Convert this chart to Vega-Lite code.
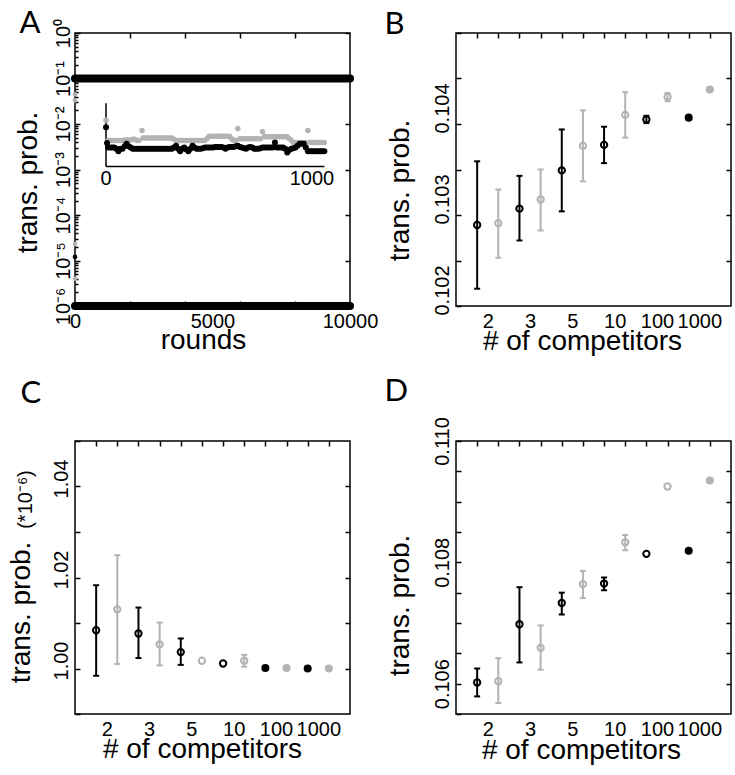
{
  "$schema": "https://vega.github.io/schema/vega-lite/v6.json",
  "autosize": {"type": "pad"},
  "padding": {"left": 6, "top": 6, "right": 5, "bottom": 11},
  "background": "white",
  "config": {
    "font": "Liberation Sans",
    "view": {"stroke": "#000", "strokeWidth": 1.5},
    "axis": {
      "labelFont": "Liberation Sans", "labelFontSize": 20, "labelColor": "#000",
      "titleFont": "Liberation Sans", "titleFontSize": 28, "titleFontWeight": "normal", "titleColor": "#000",
      "tickColor": "#000", "tickWidth": 1.5, "domain": false, "grid": false,
      "labelOverlap": false, "labelFlush": false, "labelBound": false,
      "minExtent": 0, "maxExtent": 400
    }
  },
  "datasets": {
    "comp": [
      {"panel":"B","n":"2","s":"s1","slot":1,"mean":0.10289,"lo":0.10219,"hi":0.10359},
      {"panel":"B","n":"2","s":"s2","slot":2,"mean":0.10291,"lo":0.10253,"hi":0.10328},
      {"panel":"B","n":"3","s":"s1","slot":3,"mean":0.10307,"lo":0.10272,"hi":0.10343},
      {"panel":"B","n":"3","s":"s2","slot":4,"mean":0.10317,"lo":0.10283,"hi":0.10350},
      {"panel":"B","n":"5","s":"s1","slot":5,"mean":0.10349,"lo":0.10304,"hi":0.10394},
      {"panel":"B","n":"5","s":"s2","slot":6,"mean":0.10376,"lo":0.10337,"hi":0.10415},
      {"panel":"B","n":"10","s":"s1","slot":7,"mean":0.10377,"lo":0.10357,"hi":0.10397},
      {"panel":"B","n":"10","s":"s2","slot":8,"mean":0.10410,"lo":0.10385,"hi":0.10435},
      {"panel":"B","n":"100","s":"s1","slot":9,"mean":0.10405,"lo":0.10401,"hi":0.10409},
      {"panel":"B","n":"100","s":"s2","slot":10,"mean":0.10430,"lo":0.10425,"hi":0.10434},
      {"panel":"B","n":"1000","s":"s1","slot":11,"mean":0.10407,"lo":null,"hi":null},
      {"panel":"B","n":"1000","s":"s2","slot":12,"mean":0.10438,"lo":null,"hi":null},
      {"panel":"C","n":"2","s":"s1","slot":1,"mean":1.0084,"lo":0.9984,"hi":1.0183},
      {"panel":"C","n":"2","s":"s2","slot":2,"mean":1.0130,"lo":1.0010,"hi":1.0249},
      {"panel":"C","n":"3","s":"s1","slot":3,"mean":1.0077,"lo":1.0023,"hi":1.0134},
      {"panel":"C","n":"3","s":"s2","slot":4,"mean":1.0053,"lo":1.0007,"hi":1.0101},
      {"panel":"C","n":"5","s":"s1","slot":5,"mean":1.0036,"lo":1.0008,"hi":1.0066},
      {"panel":"C","n":"5","s":"s2","slot":6,"mean":1.0017,"lo":null,"hi":null},
      {"panel":"C","n":"10","s":"s1","slot":7,"mean":1.0011,"lo":null,"hi":null},
      {"panel":"C","n":"10","s":"s2","slot":8,"mean":1.0017,"lo":1.0004,"hi":1.0030},
      {"panel":"C","n":"100","s":"s1","slot":9,"mean":1.0001,"lo":null,"hi":null},
      {"panel":"C","n":"100","s":"s2","slot":10,"mean":1.0001,"lo":null,"hi":null},
      {"panel":"C","n":"1000","s":"s1","slot":11,"mean":1.0000,"lo":null,"hi":null},
      {"panel":"C","n":"1000","s":"s2","slot":12,"mean":1.0000,"lo":null,"hi":null},
      {"panel":"D","n":"2","s":"s1","slot":1,"mean":0.10602,"lo":0.10579,"hi":0.10625},
      {"panel":"D","n":"2","s":"s2","slot":2,"mean":0.10604,"lo":0.10568,"hi":0.10642},
      {"panel":"D","n":"3","s":"s1","slot":3,"mean":0.10698,"lo":0.10635,"hi":0.10759},
      {"panel":"D","n":"3","s":"s2","slot":4,"mean":0.10659,"lo":0.10623,"hi":0.10696},
      {"panel":"D","n":"5","s":"s1","slot":5,"mean":0.10733,"lo":0.10714,"hi":0.10750},
      {"panel":"D","n":"5","s":"s2","slot":6,"mean":0.10764,"lo":0.10741,"hi":0.10786},
      {"panel":"D","n":"10","s":"s1","slot":7,"mean":0.10765,"lo":0.10754,"hi":0.10775},
      {"panel":"D","n":"10","s":"s2","slot":8,"mean":0.10833,"lo":0.10820,"hi":0.10845},
      {"panel":"D","n":"100","s":"s1","slot":9,"mean":0.10814,"lo":null,"hi":null},
      {"panel":"D","n":"100","s":"s2","slot":10,"mean":0.10925,"lo":null,"hi":null},
      {"panel":"D","n":"1000","s":"s1","slot":11,"mean":0.10819,"lo":null,"hi":null},
      {"panel":"D","n":"1000","s":"s2","slot":12,"mean":0.10935,"lo":null,"hi":null}
    ],
    "bands": [
      {"round":0,"prob":0.1,"b":"upper"},{"round":1000,"prob":0.1,"b":"upper"},{"round":2000,"prob":0.1,"b":"upper"},{"round":3000,"prob":0.1,"b":"upper"},{"round":4000,"prob":0.1,"b":"upper"},{"round":5000,"prob":0.1,"b":"upper"},{"round":6000,"prob":0.1,"b":"upper"},{"round":7000,"prob":0.1,"b":"upper"},{"round":8000,"prob":0.1,"b":"upper"},{"round":9000,"prob":0.1,"b":"upper"},{"round":10000,"prob":0.1,"b":"upper"},
      {"round":0,"prob":1e-6,"b":"lower"},{"round":1000,"prob":1e-6,"b":"lower"},{"round":2000,"prob":1e-6,"b":"lower"},{"round":3000,"prob":1e-6,"b":"lower"},{"round":4000,"prob":1e-6,"b":"lower"},{"round":5000,"prob":1e-6,"b":"lower"},{"round":6000,"prob":1e-6,"b":"lower"},{"round":7000,"prob":1e-6,"b":"lower"},{"round":8000,"prob":1e-6,"b":"lower"},{"round":9000,"prob":1e-6,"b":"lower"},{"round":10000,"prob":1e-6,"b":"lower"}
    ],
    "edge": [
      {"round":0,"prob":1.2e-5,"s":"s1"},
      {"round":0,"prob":2.3e-5,"s":"s2"},
      {"round":0,"prob":4e-6,"s":"s2"},
      {"round":0,"prob":0.045,"s":"s2"},
      {"round":0,"prob":0.033,"s":"s2"}
    ],
    "inset": [
      {"r":0,"v":0.73,"s":"s2"},{"r":10,"v":0.41,"s":"s2"},{"r":20,"v":0.41,"s":"s2"},{"r":30,"v":0.41,"s":"s2"},{"r":40,"v":0.41,"s":"s2"},{"r":50,"v":0.41,"s":"s2"},{"r":60,"v":0.41,"s":"s2"},{"r":70,"v":0.41,"s":"s2"},{"r":80,"v":0.41,"s":"s2"},{"r":90,"v":0.42,"s":"s2"},{"r":100,"v":0.42,"s":"s2"},{"r":110,"v":0.42,"s":"s2"},{"r":120,"v":0.42,"s":"s2"},{"r":130,"v":0.43,"s":"s2"},{"r":140,"v":0.43,"s":"s2"},{"r":150,"v":0.41,"s":"s2"},{"r":160,"v":0.41,"s":"s2"},{"r":175,"v":0.57,"s":"s2"},{"r":180,"v":0.45,"s":"s2"},{"r":190,"v":0.45,"s":"s2"},{"r":200,"v":0.45,"s":"s2"},{"r":210,"v":0.45,"s":"s2"},{"r":220,"v":0.45,"s":"s2"},{"r":230,"v":0.45,"s":"s2"},{"r":240,"v":0.45,"s":"s2"},{"r":250,"v":0.45,"s":"s2"},{"r":260,"v":0.45,"s":"s2"},{"r":270,"v":0.45,"s":"s2"},{"r":280,"v":0.45,"s":"s2"},{"r":290,"v":0.45,"s":"s2"},{"r":300,"v":0.45,"s":"s2"},{"r":310,"v":0.45,"s":"s2"},{"r":320,"v":0.45,"s":"s2"},{"r":330,"v":0.43,"s":"s2"},{"r":340,"v":0.41,"s":"s2"},{"r":350,"v":0.41,"s":"s2"},{"r":360,"v":0.41,"s":"s2"},{"r":370,"v":0.41,"s":"s2"},{"r":380,"v":0.41,"s":"s2"},{"r":390,"v":0.41,"s":"s2"},{"r":400,"v":0.41,"s":"s2"},{"r":410,"v":0.41,"s":"s2"},{"r":420,"v":0.41,"s":"s2"},{"r":430,"v":0.41,"s":"s2"},{"r":440,"v":0.41,"s":"s2"},{"r":450,"v":0.41,"s":"s2"},{"r":460,"v":0.41,"s":"s2"},{"r":470,"v":0.41,"s":"s2"},{"r":480,"v":0.41,"s":"s2"},{"r":490,"v":0.44,"s":"s2"},{"r":500,"v":0.48,"s":"s2"},{"r":510,"v":0.48,"s":"s2"},{"r":520,"v":0.48,"s":"s2"},{"r":530,"v":0.48,"s":"s2"},{"r":540,"v":0.48,"s":"s2"},{"r":550,"v":0.48,"s":"s2"},{"r":560,"v":0.48,"s":"s2"},{"r":570,"v":0.48,"s":"s2"},{"r":580,"v":0.48,"s":"s2"},{"r":590,"v":0.48,"s":"s2"},{"r":600,"v":0.48,"s":"s2"},{"r":610,"v":0.44,"s":"s2"},{"r":620,"v":0.41,"s":"s2"},{"r":630,"v":0.41,"s":"s2"},{"r":640,"v":0.60,"s":"s2"},{"r":650,"v":0.44,"s":"s2"},{"r":660,"v":0.44,"s":"s2"},{"r":670,"v":0.44,"s":"s2"},{"r":680,"v":0.44,"s":"s2"},{"r":690,"v":0.44,"s":"s2"},{"r":700,"v":0.44,"s":"s2"},{"r":710,"v":0.44,"s":"s2"},{"r":720,"v":0.44,"s":"s2"},{"r":730,"v":0.44,"s":"s2"},{"r":740,"v":0.44,"s":"s2"},{"r":750,"v":0.44,"s":"s2"},{"r":760,"v":0.55,"s":"s2"},{"r":770,"v":0.47,"s":"s2"},{"r":780,"v":0.47,"s":"s2"},{"r":790,"v":0.47,"s":"s2"},{"r":800,"v":0.47,"s":"s2"},{"r":810,"v":0.47,"s":"s2"},{"r":820,"v":0.47,"s":"s2"},{"r":830,"v":0.47,"s":"s2"},{"r":840,"v":0.47,"s":"s2"},{"r":850,"v":0.47,"s":"s2"},{"r":860,"v":0.47,"s":"s2"},{"r":870,"v":0.47,"s":"s2"},{"r":880,"v":0.47,"s":"s2"},{"r":890,"v":0.44,"s":"s2"},{"r":900,"v":0.41,"s":"s2"},{"r":910,"v":0.38,"s":"s2"},{"r":920,"v":0.38,"s":"s2"},{"r":930,"v":0.38,"s":"s2"},{"r":940,"v":0.38,"s":"s2"},{"r":950,"v":0.38,"s":"s2"},{"r":960,"v":0.38,"s":"s2"},{"r":970,"v":0.38,"s":"s2"},{"r":980,"v":0.57,"s":"s2"},{"r":990,"v":0.38,"s":"s2"},{"r":1000,"v":0.38,"s":"s2"},{"r":1010,"v":0.38,"s":"s2"},{"r":1020,"v":0.38,"s":"s2"},{"r":1030,"v":0.38,"s":"s2"},{"r":1040,"v":0.38,"s":"s2"},{"r":1050,"v":0.38,"s":"s2"},{"r":1060,"v":0.38,"s":"s2"},
      {"r":0,"v":0.62,"s":"s1"},{"r":5,"v":0.37,"s":"s1"},{"r":10,"v":0.30,"s":"s1"},{"r":20,"v":0.30,"s":"s1"},{"r":30,"v":0.30,"s":"s1"},{"r":40,"v":0.30,"s":"s1"},{"r":50,"v":0.28,"s":"s1"},{"r":60,"v":0.24,"s":"s1"},{"r":70,"v":0.28,"s":"s1"},{"r":80,"v":0.28,"s":"s1"},{"r":90,"v":0.32,"s":"s1"},{"r":100,"v":0.36,"s":"s1"},{"r":110,"v":0.32,"s":"s1"},{"r":120,"v":0.30,"s":"s1"},{"r":130,"v":0.28,"s":"s1"},{"r":140,"v":0.28,"s":"s1"},{"r":150,"v":0.28,"s":"s1"},{"r":160,"v":0.28,"s":"s1"},{"r":170,"v":0.28,"s":"s1"},{"r":180,"v":0.28,"s":"s1"},{"r":190,"v":0.28,"s":"s1"},{"r":200,"v":0.28,"s":"s1"},{"r":210,"v":0.28,"s":"s1"},{"r":220,"v":0.28,"s":"s1"},{"r":230,"v":0.28,"s":"s1"},{"r":240,"v":0.28,"s":"s1"},{"r":250,"v":0.28,"s":"s1"},{"r":260,"v":0.28,"s":"s1"},{"r":270,"v":0.28,"s":"s1"},{"r":280,"v":0.28,"s":"s1"},{"r":290,"v":0.28,"s":"s1"},{"r":300,"v":0.28,"s":"s1"},{"r":310,"v":0.28,"s":"s1"},{"r":320,"v":0.28,"s":"s1"},{"r":330,"v":0.30,"s":"s1"},{"r":340,"v":0.33,"s":"s1"},{"r":350,"v":0.28,"s":"s1"},{"r":360,"v":0.24,"s":"s1"},{"r":370,"v":0.28,"s":"s1"},{"r":380,"v":0.30,"s":"s1"},{"r":390,"v":0.27,"s":"s1"},{"r":400,"v":0.24,"s":"s1"},{"r":410,"v":0.28,"s":"s1"},{"r":420,"v":0.33,"s":"s1"},{"r":430,"v":0.30,"s":"s1"},{"r":440,"v":0.28,"s":"s1"},{"r":450,"v":0.28,"s":"s1"},{"r":460,"v":0.28,"s":"s1"},{"r":470,"v":0.29,"s":"s1"},{"r":480,"v":0.30,"s":"s1"},{"r":490,"v":0.30,"s":"s1"},{"r":500,"v":0.30,"s":"s1"},{"r":510,"v":0.30,"s":"s1"},{"r":520,"v":0.30,"s":"s1"},{"r":530,"v":0.31,"s":"s1"},{"r":540,"v":0.31,"s":"s1"},{"r":550,"v":0.31,"s":"s1"},{"r":560,"v":0.31,"s":"s1"},{"r":570,"v":0.30,"s":"s1"},{"r":580,"v":0.28,"s":"s1"},{"r":590,"v":0.30,"s":"s1"},{"r":600,"v":0.31,"s":"s1"},{"r":610,"v":0.31,"s":"s1"},{"r":620,"v":0.31,"s":"s1"},{"r":630,"v":0.32,"s":"s1"},{"r":640,"v":0.33,"s":"s1"},{"r":650,"v":0.31,"s":"s1"},{"r":660,"v":0.30,"s":"s1"},{"r":670,"v":0.29,"s":"s1"},{"r":680,"v":0.28,"s":"s1"},{"r":690,"v":0.30,"s":"s1"},{"r":700,"v":0.31,"s":"s1"},{"r":710,"v":0.30,"s":"s1"},{"r":720,"v":0.28,"s":"s1"},{"r":730,"v":0.28,"s":"s1"},{"r":740,"v":0.28,"s":"s1"},{"r":750,"v":0.29,"s":"s1"},{"r":760,"v":0.30,"s":"s1"},{"r":770,"v":0.30,"s":"s1"},{"r":780,"v":0.30,"s":"s1"},{"r":790,"v":0.30,"s":"s1"},{"r":800,"v":0.30,"s":"s1"},{"r":810,"v":0.30,"s":"s1"},{"r":820,"v":0.38,"s":"s1"},{"r":830,"v":0.30,"s":"s1"},{"r":840,"v":0.30,"s":"s1"},{"r":850,"v":0.30,"s":"s1"},{"r":860,"v":0.30,"s":"s1"},{"r":870,"v":0.28,"s":"s1"},{"r":880,"v":0.22,"s":"s1"},{"r":890,"v":0.26,"s":"s1"},{"r":900,"v":0.28,"s":"s1"},{"r":910,"v":0.29,"s":"s1"},{"r":920,"v":0.30,"s":"s1"},{"r":930,"v":0.33,"s":"s1"},{"r":940,"v":0.36,"s":"s1"},{"r":950,"v":0.36,"s":"s1"},{"r":960,"v":0.36,"s":"s1"},{"r":970,"v":0.30,"s":"s1"},{"r":980,"v":0.24,"s":"s1"},{"r":990,"v":0.24,"s":"s1"},{"r":1000,"v":0.24,"s":"s1"},{"r":1010,"v":0.24,"s":"s1"},{"r":1020,"v":0.24,"s":"s1"},{"r":1030,"v":0.24,"s":"s1"},{"r":1040,"v":0.24,"s":"s1"},{"r":1050,"v":0.24,"s":"s1"},{"r":1060,"v":0.24,"s":"s1"}
    ],
    "insetaxes": [
      {"r":0,"r2":1060,"v":0,"v2":0},
      {"r":0,"r2":0,"v":0,"v2":1}
    ],
    "insetlabels": [
      {"r":0,"v":-0.19,"label":"0"},
      {"r":1000,"v":-0.19,"label":"1000"}
    ]
  },
  "columns": 2,
  "spacing": {"row": 135, "column": 106},
  "bounds": "flush",
  "concat": [
    {
      "width": 275, "height": 273,
      "layer": [
        {
          "layer": [
            {"data": {"name": "bands"}, "mark": {"type": "line", "strokeWidth": 8, "strokeCap": "round", "color": "#000"},
             "encoding": {"x": {"field": "round", "type": "quantitative", "scale": {"domain": [0, 10000], "nice": false}, "axis": null},
                          "y": {"field": "prob", "type": "quantitative", "scale": {"type": "log", "domain": [1e-6, 1], "nice": false}, "axis": null},
                          "detail": {"field": "b"}}},
            {"data": {"name": "edge"}, "mark": {"type": "point", "shape": "circle", "filled": true, "size": 22, "opacity": 1},
             "encoding": {"x": {"field": "round", "type": "quantitative", "scale": {"domain": [0, 10000], "nice": false}, "axis": null},
                          "y": {"field": "prob", "type": "quantitative", "scale": {"type": "log", "domain": [1e-6, 1], "nice": false}, "axis": null},
                          "color": {"field": "s", "type": "nominal", "scale": {"domain": ["s1", "s2"], "range": ["#000000", "#b3b3b3"]}, "legend": null}}}
          ]
        },
        {
          "encoding": {"x": {"field": "r", "type": "quantitative", "scale": {"domain": [-150.5, 1184.5], "nice": false}, "axis": null},
                       "y": {"field": "v", "type": "quantitative", "scale": {"domain": [-2.206, 2.111], "nice": false}, "axis": null}},
          "layer": [
            {"data": {"name": "insetaxes"}, "mark": {"type": "rule", "strokeWidth": 1.5, "color": "#000"},
             "encoding": {"x2": {"field": "r2"}, "y2": {"field": "v2"}}},
            {"data": {"name": "inset"}, "transform": [{"filter": "datum.s == 's2'"}], "mark": {"type": "point", "shape": "circle", "filled": true, "size": 30, "opacity": 1, "color": "#b3b3b3"}},
            {"data": {"name": "inset"}, "transform": [{"filter": "datum.s == 's1'"}], "mark": {"type": "point", "shape": "circle", "filled": true, "size": 36, "opacity": 1, "color": "#000000"}},
            {"data": {"name": "insetlabels"}, "mark": {"type": "text", "fontSize": 20, "font": "Liberation Sans", "baseline": "middle", "align": "center", "color": "#000"},
             "encoding": {"text": {"field": "label"}}}
          ]
        },
        {
          "data": {"values": [{}]}, "mark": {"type": "point", "opacity": 0},
          "encoding": {
            "x": {"datum": 0, "type": "quantitative", "scale": {"domain": [0, 10000], "nice": false},
                  "axis": {"orient": "bottom", "values": [0, 5000, 10000], "format": "d", "ticks": false, "labelPadding": 5, "labelBaseline": "top", "title": "rounds", "titleX": 128, "titleY": 42, "titleBaseline": "alphabetic"}},
            "y": {"datum": 0.01, "type": "quantitative", "scale": {"type": "log", "domain": [1e-6, 1], "nice": false},
                  "axis": {"orient": "left", "values": [1, 0.1, 0.01, 0.001, 0.0001, 0.00001, 0.000001],
                           "labelExpr": "'10' + ['⁰','⁻¹','⁻²','⁻³','⁻⁴','⁻⁵','⁻⁶'][round(-log(datum.value)/LN10)]",
                           "tickSize": -5, "labelPadding": 17, "labelAngle": -90, "labelAlign": "center", "labelBaseline": "middle",
                           "title": "trans. prob.", "titleX": -47, "titleY": 149, "titleAngle": -90, "titleBaseline": "middle", "titleAlign": "center"}}
          }
        },
        {
          "data": {"values": [{}]}, "mark": {"type": "point", "opacity": 0},
          "encoding": {
            "x": {"datum": 0, "type": "quantitative", "scale": {"domain": [0, 10000], "nice": false},
                  "axis": {"orient": "top", "values": [2000, 4000, 6000, 8000], "labels": false, "tickSize": -5,
                           "title": "A", "titleX": -56, "titleY": -1, "titleAngle": 0, "titleAlign": "left", "titleBaseline": "alphabetic", "titleFont": "Lato", "titleFontSize": 31}},
            "y": {"datum": 0.01, "type": "quantitative", "scale": {"type": "log", "domain": [1e-6, 1], "nice": false},
                  "axis": {"orient": "right", "values": [1, 0.1, 0.01, 0.001, 0.0001, 0.00001, 0.000001], "labels": false, "tickSize": -5, "title": null}}
          }
        },
        {
          "data": {"values": [{}]}, "mark": {"type": "point", "opacity": 0},
          "encoding": {
            "x": {"datum": 0, "type": "quantitative", "scale": {"domain": [0, 10000], "nice": false},
                  "axis": {"orient": "bottom", "values": [2000, 4000, 6000, 8000], "labels": false, "tickSize": -5, "title": null}},
            "y": {"datum": 0.01, "type": "quantitative", "scale": {"type": "log", "domain": [1e-6, 1], "nice": false},
                  "axis": {"orient": "left", "values": [2e-6,3e-6,4e-6,5e-6,6e-6,7e-6,8e-6,9e-6,2e-5,3e-5,4e-5,5e-5,6e-5,7e-5,8e-5,9e-5,2e-4,3e-4,4e-4,5e-4,6e-4,7e-4,8e-4,9e-4,2e-3,3e-3,4e-3,5e-3,6e-3,7e-3,8e-3,9e-3,0.02,0.03,0.04,0.05,0.06,0.07,0.08,0.09,0.2,0.3,0.4,0.5,0.6,0.7,0.8,0.9],
                           "labels": false, "tickSize": -3, "title": null}}
          }
        }
      ],
      "resolve": {"scale": {"x": "independent", "y": "independent"}}
    },
    {
      "width": 275, "height": 273,
      "layer": [
        {
          "data": {"name": "comp"},
          "transform": [{"filter": "datum.panel == 'B'"}],
          "encoding": {
            "x": {"field": "slot", "type": "quantitative", "scale": {"domain": [0, 13], "nice": false}, "axis": null},
            "color": {"field": "s", "type": "nominal", "scale": {"domain": ["s1", "s2"], "range": ["#000000", "#b3b3b3"]}, "legend": null}
          },
          "layer": [
            {"mark": {"type": "rule", "strokeWidth": 2}, "encoding": {"y": {"field": "lo", "type": "quantitative", "scale": {"domain": [0.102, 0.105], "nice": false}, "axis": null}, "y2": {"field": "hi"}}},
            {"mark": {"type": "tick", "orient": "horizontal", "size": 6, "thickness": 2, "opacity": 1}, "encoding": {"y": {"field": "lo", "type": "quantitative", "scale": {"domain": [0.102, 0.105], "nice": false}, "axis": null}}},
            {"mark": {"type": "tick", "orient": "horizontal", "size": 6, "thickness": 2, "opacity": 1}, "encoding": {"y": {"field": "hi", "type": "quantitative", "scale": {"domain": [0.102, 0.105], "nice": false}, "axis": null}}},
            {"transform": [{"filter": "datum.n != '1000'"}], "mark": {"type": "point", "shape": "circle", "filled": false, "size": 40, "strokeWidth": 2, "opacity": 1}, "encoding": {"y": {"field": "mean", "type": "quantitative", "scale": {"domain": [0.102, 0.105], "nice": false}, "axis": null}}},
            {"transform": [{"filter": "datum.n == '1000'"}], "mark": {"type": "point", "shape": "circle", "filled": true, "size": 65, "opacity": 1}, "encoding": {"y": {"field": "mean", "type": "quantitative", "scale": {"domain": [0.102, 0.105], "nice": false}, "axis": null}}}
          ]
        },
        {
          "data": {"values": [{}]}, "mark": {"type": "point", "opacity": 0},
          "encoding": {
            "x": {"datum": 1, "type": "quantitative", "scale": {"domain": [0, 13], "nice": false},
                  "axis": {"orient": "bottom", "values": [1.5, 3.5, 5.5, 7.5, 9.5, 11.5],
                           "labelExpr": "datum.value == 1.5 ? '2' : datum.value == 3.5 ? '3' : datum.value == 5.5 ? '5' : datum.value == 7.5 ? '10' : datum.value == 9.5 ? '100' : '1000'",
                           "ticks": false, "labelPadding": 5, "labelBaseline": "top",
                           "title": "# of competitors", "titleX": 126, "titleY": 43, "titleBaseline": "alphabetic"}},
            "y": {"datum": 0.103, "type": "quantitative", "scale": {"domain": [0.102, 0.105], "nice": false},
                  "axis": {"orient": "left", "values": [0.102, 0.1025, 0.103, 0.1035, 0.104, 0.1045, 0.105],
                           "labelExpr": "(datum.value == 0.102 || datum.value == 0.103 || datum.value == 0.104) ? format(datum.value, '.3f') : ''",
                           "tickSize": -5, "labelPadding": 19, "labelAngle": -90, "labelAlign": "center", "labelBaseline": "middle", "labelOffset": -16,
                           "title": "trans. prob.", "titleX": -56, "titleY": 157, "titleAngle": -90, "titleBaseline": "middle", "titleAlign": "center"}}
          }
        },
        {
          "data": {"values": [{}]}, "mark": {"type": "point", "opacity": 0},
          "encoding": {
            "x": {"datum": 1, "type": "quantitative", "scale": {"domain": [0, 13], "nice": false},
                  "axis": {"orient": "top", "values": [1,2,3,4,5,6,7,8,9,10,11,12], "labels": false, "tickSize": -5,
                           "title": "B", "titleX": -72, "titleY": 0, "titleAngle": 0, "titleAlign": "left", "titleBaseline": "alphabetic", "titleFont": "Lato", "titleFontSize": 31}},
            "y": {"datum": 0.103, "type": "quantitative", "scale": {"domain": [0.102, 0.105], "nice": false},
                  "axis": {"orient": "right", "values": [0.1025, 0.103, 0.1035, 0.104, 0.1045], "labels": false, "tickSize": -5, "title": null}}
          }
        }
      ],
      "resolve": {"scale": {"x": "independent", "y": "independent"}}
    },
    {
      "width": 275, "height": 273,
      "layer": [
        {
          "data": {"name": "comp"},
          "transform": [{"filter": "datum.panel == 'C'"}],
          "encoding": {
            "x": {"field": "slot", "type": "quantitative", "scale": {"domain": [0, 13], "nice": false}, "axis": null},
            "color": {"field": "s", "type": "nominal", "scale": {"domain": ["s1", "s2"], "range": ["#000000", "#b3b3b3"]}, "legend": null}
          },
          "layer": [
            {"mark": {"type": "rule", "strokeWidth": 2}, "encoding": {"y": {"field": "lo", "type": "quantitative", "scale": {"domain": [0.99, 1.05], "nice": false}, "axis": null}, "y2": {"field": "hi"}}},
            {"mark": {"type": "tick", "orient": "horizontal", "size": 6, "thickness": 2, "opacity": 1}, "encoding": {"y": {"field": "lo", "type": "quantitative", "scale": {"domain": [0.99, 1.05], "nice": false}, "axis": null}}},
            {"mark": {"type": "tick", "orient": "horizontal", "size": 6, "thickness": 2, "opacity": 1}, "encoding": {"y": {"field": "hi", "type": "quantitative", "scale": {"domain": [0.99, 1.05], "nice": false}, "axis": null}}},
            {"transform": [{"filter": "datum.n != '1000' && datum.n != '100'"}], "mark": {"type": "point", "shape": "circle", "filled": false, "size": 40, "strokeWidth": 2, "opacity": 1}, "encoding": {"y": {"field": "mean", "type": "quantitative", "scale": {"domain": [0.99, 1.05], "nice": false}, "axis": null}}},
            {"transform": [{"filter": "datum.n == '1000' || datum.n == '100'"}], "mark": {"type": "point", "shape": "circle", "filled": true, "size": 65, "opacity": 1}, "encoding": {"y": {"field": "mean", "type": "quantitative", "scale": {"domain": [0.99, 1.05], "nice": false}, "axis": null}}}
          ]
        },
        {
          "data": {"values": [{}]}, "mark": {"type": "point", "opacity": 0},
          "encoding": {
            "x": {"datum": 1, "type": "quantitative", "scale": {"domain": [0, 13], "nice": false},
                  "axis": {"orient": "bottom", "values": [1.5, 3.5, 5.5, 7.5, 9.5, 11.5],
                           "labelExpr": "datum.value == 1.5 ? '2' : datum.value == 3.5 ? '3' : datum.value == 5.5 ? '5' : datum.value == 7.5 ? '10' : datum.value == 9.5 ? '100' : '1000'",
                           "ticks": false, "labelPadding": 5, "labelBaseline": "top",
                           "title": "# of competitors", "titleX": 127, "titleY": 43, "titleBaseline": "alphabetic"}},
            "y": {"datum": 1.0, "type": "quantitative", "scale": {"domain": [0.99, 1.05], "nice": false},
                  "axis": {"orient": "left", "values": [0.99, 1.0, 1.01, 1.02, 1.03, 1.04, 1.05],
                           "labelExpr": "(datum.value == 1.0 || datum.value == 1.02 || datum.value == 1.04) ? format(datum.value, '.2f') : ''",
                           "tickSize": -5, "labelPadding": 19, "labelAngle": -90, "labelAlign": "center", "labelBaseline": "middle", "labelOffset": -8,
                           "title": "trans. prob.", "titleX": -54, "titleY": 171, "titleAngle": -90, "titleBaseline": "middle", "titleAlign": "center"}}
          }
        },
        {
          "data": {"values": [{}]}, "mark": {"type": "point", "opacity": 0},
          "encoding": {
            "x": {"datum": 1, "type": "quantitative", "scale": {"domain": [0, 13], "nice": false},
                  "axis": {"orient": "top", "values": [1,2,3,4,5,6,7,8,9,10,11,12], "labels": false, "tickSize": -5,
                           "title": "C", "titleX": -55, "titleY": -39, "titleAngle": 0, "titleAlign": "left", "titleBaseline": "alphabetic", "titleFont": "Lato", "titleFontSize": 31}},
            "y": {"datum": 1.0, "type": "quantitative", "scale": {"domain": [0.99, 1.05], "nice": false},
                  "axis": {"orient": "right", "values": [1.0, 1.01, 1.02, 1.03, 1.04], "labels": false, "tickSize": -5, "title": null}}
          }
        },
        {
          "data": {"values": [{}]}, "mark": {"type": "point", "opacity": 0},
          "encoding": {
            "y": {"datum": 1.0, "type": "quantitative", "scale": {"domain": [0.99, 1.05], "nice": false},
                  "axis": {"orient": "left", "labels": false, "ticks": false, "title": "(*10⁻⁶)", "titleFontSize": 20, "titleX": -50, "titleY": 58, "titleAngle": -90, "titleBaseline": "middle", "titleAlign": "center"}}
          }
        }
      ],
      "resolve": {"scale": {"x": "independent", "y": "independent"}}
    },
    {
      "width": 275, "height": 273,
      "layer": [
        {
          "data": {"name": "comp"},
          "transform": [{"filter": "datum.panel == 'D'"}],
          "encoding": {
            "x": {"field": "slot", "type": "quantitative", "scale": {"domain": [0, 13], "nice": false}, "axis": null},
            "color": {"field": "s", "type": "nominal", "scale": {"domain": ["s1", "s2"], "range": ["#000000", "#b3b3b3"]}, "legend": null}
          },
          "layer": [
            {"mark": {"type": "rule", "strokeWidth": 2}, "encoding": {"y": {"field": "lo", "type": "quantitative", "scale": {"domain": [0.1055, 0.110], "nice": false}, "axis": null}, "y2": {"field": "hi"}}},
            {"mark": {"type": "tick", "orient": "horizontal", "size": 6, "thickness": 2, "opacity": 1}, "encoding": {"y": {"field": "lo", "type": "quantitative", "scale": {"domain": [0.1055, 0.110], "nice": false}, "axis": null}}},
            {"mark": {"type": "tick", "orient": "horizontal", "size": 6, "thickness": 2, "opacity": 1}, "encoding": {"y": {"field": "hi", "type": "quantitative", "scale": {"domain": [0.1055, 0.110], "nice": false}, "axis": null}}},
            {"transform": [{"filter": "datum.n != '1000'"}], "mark": {"type": "point", "shape": "circle", "filled": false, "size": 40, "strokeWidth": 2, "opacity": 1}, "encoding": {"y": {"field": "mean", "type": "quantitative", "scale": {"domain": [0.1055, 0.110], "nice": false}, "axis": null}}},
            {"transform": [{"filter": "datum.n == '1000'"}], "mark": {"type": "point", "shape": "circle", "filled": true, "size": 65, "opacity": 1}, "encoding": {"y": {"field": "mean", "type": "quantitative", "scale": {"domain": [0.1055, 0.110], "nice": false}, "axis": null}}}
          ]
        },
        {
          "data": {"values": [{}]}, "mark": {"type": "point", "opacity": 0},
          "encoding": {
            "x": {"datum": 1, "type": "quantitative", "scale": {"domain": [0, 13], "nice": false},
                  "axis": {"orient": "bottom", "values": [1.5, 3.5, 5.5, 7.5, 9.5, 11.5],
                           "labelExpr": "datum.value == 1.5 ? '2' : datum.value == 3.5 ? '3' : datum.value == 5.5 ? '5' : datum.value == 7.5 ? '10' : datum.value == 9.5 ? '100' : '1000'",
                           "ticks": false, "labelPadding": 5, "labelBaseline": "top",
                           "title": "# of competitors", "titleX": 125, "titleY": 44, "titleBaseline": "alphabetic"}},
            "y": {"datum": 0.108, "type": "quantitative", "scale": {"domain": [0.1055, 0.110], "nice": false},
                  "axis": {"orient": "left", "values": [0.1055, 0.106, 0.1065, 0.107, 0.1075, 0.108, 0.1085, 0.109, 0.1095, 0.110],
                           "labelExpr": "(datum.value == 0.106 || datum.value == 0.108 || datum.value == 0.110) ? format(datum.value, '.3f') : ''",
                           "tickSize": -5, "labelPadding": 19, "labelAngle": -90, "labelAlign": "center", "labelBaseline": "middle",
                           "title": "trans. prob.", "titleX": -56, "titleY": 164, "titleAngle": -90, "titleBaseline": "middle", "titleAlign": "center"}}
          }
        },
        {
          "data": {"values": [{}]}, "mark": {"type": "point", "opacity": 0},
          "encoding": {
            "x": {"datum": 1, "type": "quantitative", "scale": {"domain": [0, 13], "nice": false},
                  "axis": {"orient": "top", "values": [1,2,3,4,5,6,7,8,9,10,11,12], "labels": false, "tickSize": -5,
                           "title": "D", "titleX": -72, "titleY": -41, "titleAngle": 0, "titleAlign": "left", "titleBaseline": "alphabetic", "titleFont": "Lato", "titleFontSize": 31}},
            "y": {"datum": 0.108, "type": "quantitative", "scale": {"domain": [0.1055, 0.110], "nice": false},
                  "axis": {"orient": "right", "values": [0.106, 0.1065, 0.107, 0.1075, 0.108, 0.1085, 0.109, 0.1095], "labels": false, "tickSize": -5, "title": null}}
          }
        }
      ],
      "resolve": {"scale": {"x": "independent", "y": "independent"}}
    }
  ]
}
